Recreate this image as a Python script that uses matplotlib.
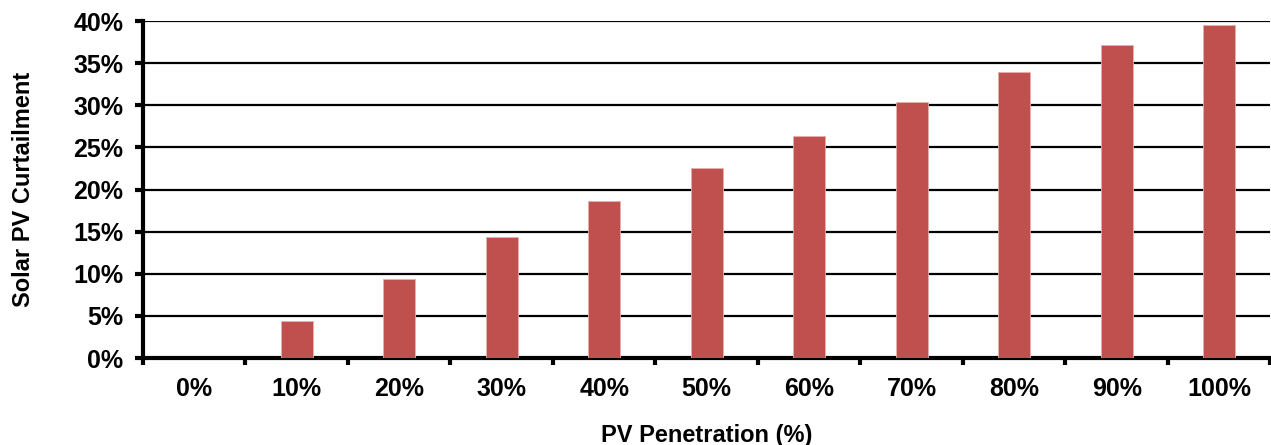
import matplotlib.pyplot as plt
import numpy as np
from matplotlib.ticker import FixedLocator, PercentFormatter

plt.rcParams['font.family'] = ['Liberation Sans', 'DejaVu Sans']
plt.rcParams['font.weight'] = 'bold'

penetration = ['0%', '10%', '20%', '30%', '40%', '50%', '60%', '70%', '80%', '90%', '100%']
curtailment = [0.0, 4.4, 9.4, 14.4, 18.6, 22.5, 26.3, 30.4, 34.0, 37.1, 39.5]

fig = plt.figure(figsize=(12.71, 4.45), dpi=100)
ax = fig.add_axes([0.1125, 0.1955, 0.887, 0.7573])

x = np.arange(len(penetration))
ax.bar(x, curtailment, width=0.31, color='#C0504D', edgecolor='#E6B0AE', linewidth=0.6, zorder=3)

ax.set_xlim(-0.5, len(penetration) - 0.5)
ax.set_ylim(0, 40)
ax.set_yticks(np.arange(0, 41, 5))
ax.yaxis.set_major_formatter(PercentFormatter(decimals=0))
ax.yaxis.grid(True, color='black', linewidth=1.6, zorder=1)

ax.set_xticks(x)
ax.set_xticklabels(penetration)
ax.xaxis.set_minor_locator(FixedLocator(np.arange(-0.5, len(penetration), 1.0)))
ax.tick_params(axis='x', which='major', length=0, pad=14, labelsize=18)
ax.tick_params(axis='x', which='minor', length=5, width=3, direction='out')
ax.tick_params(axis='y', length=6, width=3, direction='out', labelsize=18, pad=8)

for side in ['top', 'right']:
    ax.spines[side].set_visible(False)
for side in ['left', 'bottom']:
    ax.spines[side].set_linewidth(3)

ax.set_ylabel('Solar PV Curtailment', fontsize=17, fontweight='bold', labelpad=28)
ax.set_xlabel('PV Penetration (%)', fontsize=17, fontweight='bold', labelpad=16)

fig.savefig('out.png', dpi=100)
